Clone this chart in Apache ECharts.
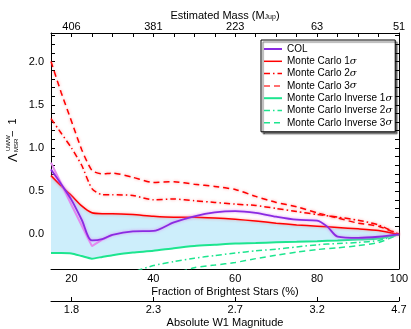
<!DOCTYPE html>
<html>
<head>
<meta charset="utf-8">
<script src="https://cdn.jsdelivr.net/npm/echarts@6/dist/echarts.min.js"></script>
<style>
html, body { margin: 0; padding: 0; background: #fff; }
#chart { width: 411px; height: 329px; }
</style>
</head>
<body>
<div id="chart"></div>
<script>
// fraction of brightest stars (%) shared by the Monte Carlo curves
var fraction = [15, 17.5, 20, 22.5, 25, 27.5, 30, 35, 40, 45, 50, 55, 60, 65, 70, 75, 80, 85, 90, 95, 100]
var mc1 = [0.68, 0.56, 0.45, 0.33, 0.25, 0.24, 0.24, 0.23, 0.21, 0.20, 0.20, 0.19, 0.175, 0.155, 0.13, 0.11, 0.095, 0.08, 0.065, 0.045, 0]
var mc2 = [1.34, 1.17, 1.00, 0.80, 0.53, 0.46, 0.46, 0.45, 0.40, 0.41, 0.39, 0.37, 0.35, 0.335, 0.30, 0.265, 0.23, 0.20, 0.165, 0.11, 0]
var mc3 = [2.00, 1.64, 1.31, 0.98, 0.74, 0.70, 0.71, 0.66, 0.60, 0.61, 0.58, 0.555, 0.52, 0.44, 0.37, 0.32, 0.25, 0.19, 0.13, 0.095, 0]
var inv1 = [-0.215, -0.215, -0.22, -0.25, -0.28, -0.26, -0.24, -0.21, -0.19, -0.16, -0.135, -0.12, -0.105, -0.10, -0.09, -0.085, -0.078, -0.07, -0.06, -0.048, 0]

var inv2Fraction = [30, 35, 40, 45, 50, 55, 60, 65, 70, 75, 80, 85, 90, 95, 100]
var inv2 = [-0.56, -0.44, -0.36, -0.315, -0.275, -0.245, -0.215, -0.19, -0.17, -0.145, -0.12, -0.105, -0.093, -0.07, 0]
var inv3Fraction = [40, 45, 50, 55, 60, 65, 70, 75, 80, 85, 90, 95, 100]
var inv3 = [-0.56, -0.46, -0.385, -0.355, -0.325, -0.28, -0.24, -0.205, -0.175, -0.155, -0.13, -0.095, 0]

var colFraction = [15, 17.5, 20, 22.5, 25, 27.5, 30, 35, 40, 45, 50, 55, 60, 65, 70, 75, 80, 82.5, 85, 90, 95, 100]
var col = [0.75, 0.58, 0.40, 0.17, -0.07, -0.055, -0.005, 0.035, 0.04, 0.14, 0.21, 0.255, 0.27, 0.25, 0.205, 0.17, 0.16, 0.09, -0.025, -0.04, -0.027, 0]
// unsmoothed COL near the bright end
var colRawFraction = [15, 20, 25, 27.5, 30]
var colRaw = [0.83, 0.34, -0.135, -0.06, -0.005]

// tick labels
var fractionTicks = [20, 40, 60, 80, 100]
var massLabels = ['406', '381', '223', '63', '51']
var magLabels = ['1.8', '2.3', '2.7', '3.2', '4.7']

var FONT = 'Liberation Sans'
var RED = '#ff0000'
var GREEN = '#1de58f'
var PURPLE = '#8a2be2'
var DASH = [6, 4]
var DASHDOT = [6, 3, 1.5, 3]

function pairs(xs, ys) {
  return xs.map(function (x, i) { return [x, ys[i]] })
}

var axisLine = { onZero: false, lineStyle: { color: '#000', width: 1 } }
var axisTick = { inside: true, length: 4, lineStyle: { color: '#000' } }
var labelStyle = { color: '#000', fontSize: 11, fontFamily: FONT }

function tickLabel(list) {
  return function (v) {
    var i = fractionTicks.indexOf(Math.round(v))
    return (Math.abs(v - Math.round(v)) < 1e-6 && i >= 0) ? list[i] : ''
  }
}

function lineSeries(name, data, color, type, width, glow, smooth) {
  return {
    name: name,
    type: 'line',
    data: data,
    symbol: 'none',
    smooth: smooth,
    lineStyle: {
      color: color,
      width: width,
      type: type,
      shadowColor: glow,
      shadowBlur: glow ? 3 : 0
    },
    itemStyle: { color: color },
    z: 3
  }
}

function legendItem(name, color, type, width) {
  return {
    name: name,
    itemStyle: { opacity: 0 },
    lineStyle: { color: color, type: type, width: width, shadowBlur: 0 }
  }
}

var chart = echarts.init(document.getElementById('chart'))
var option = {
  animation: false,
  backgroundColor: '#fff',
  grid: { left: 51, right: 12, top: 33, bottom: 60, outerBoundsMode: 'none', containLabel: false },
  xAxis: [
    {
      type: 'value', position: 'bottom', min: 15, max: 100, interval: 5,
      axisLine: axisLine, axisTick: axisTick, splitLine: { show: false },
      axisLabel: Object.assign({ margin: 4, formatter: tickLabel(fractionTicks.map(String)) }, labelStyle),
      name: 'Fraction of Brightest Stars (%)', nameLocation: 'middle', nameGap: 17, nameMoveOverlap: false,
      nameTextStyle: labelStyle
    },
    {
      type: 'value', position: 'top', min: 15, max: 100, interval: 5,
      axisLine: axisLine, axisTick: axisTick, splitLine: { show: false },
      axisLabel: Object.assign({ margin: 1, formatter: tickLabel(massLabels) }, labelStyle),
      name: 'Estimated Mass (M{sub|Jup})', nameLocation: 'middle', nameGap: 12, nameMoveOverlap: false,
      nameTextStyle: Object.assign({
        rich: { sub: { fontSize: 7, fontFamily: FONT, color: '#000', verticalAlign: 'bottom', padding: [4, 0, 0, 0] } }
      }, labelStyle)
    },
    {
      type: 'value', position: 'bottom', offset: 32, min: 15, max: 100,
      axisLine: axisLine, splitLine: { show: false },
      axisTick: Object.assign({ customValues: fractionTicks }, axisTick),
      axisLabel: Object.assign({ margin: 3, customValues: fractionTicks, formatter: tickLabel(magLabels) }, labelStyle),
      name: 'Absolute W1 Magnitude', nameLocation: 'middle', nameGap: 16, nameMoveOverlap: false,
      nameTextStyle: labelStyle
    }
  ],
  yAxis: [
    {
      type: 'value', position: 'left', min: -0.4, max: 2.33, interval: 0.1,
      axisLine: axisLine, axisTick: axisTick, splitLine: { show: false },
      axisLabel: Object.assign({
        margin: 7,
        formatter: function (v) {
          var k = Math.round(v * 10)
          return (k % 5 === 0 && Math.abs(v * 10 - k) < 1e-6) ? (k / 10).toFixed(1) : ''
        }
      }, labelStyle)
    },
    {
      type: 'value', position: 'right', min: -0.4, max: 2.33, interval: 0.1,
      axisLine: axisLine, axisTick: axisTick, splitLine: { show: false },
      axisLabel: { show: false }
    }
  ],
  legend: {
    data: [
      legendItem('COL', PURPLE, 'solid', 2),
      legendItem('Monte Carlo 1σ', RED, 'solid', 1.5),
      legendItem('Monte Carlo 2σ', RED, DASHDOT, 1.5),
      legendItem('Monte Carlo 3σ', '#ff7070', DASH, 2),
      legendItem('Monte Carlo Inverse 1σ', GREEN, 'solid', 2),
      legendItem('Monte Carlo Inverse 2σ', GREEN, DASHDOT, 1.5),
      legendItem('Monte Carlo Inverse 3σ', GREEN, DASH, 1.5)
    ],
    orient: 'vertical',
    left: 261,
    top: 40,
    padding: [4, 3, 4, 2],
    itemWidth: 18,
    itemHeight: 12,
    itemGap: 2.3,
    backgroundColor: '#fff',
    borderColor: '#000',
    borderWidth: 1,
    shadowColor: 'rgba(0,0,0,0.55)',
    shadowBlur: 1,
    shadowOffsetX: 2,
    shadowOffsetY: 2,
    formatter: function (name) { return name.replace('σ', '{i|σ}') },
    textStyle: {
      color: '#000', fontSize: 10, fontFamily: FONT,
      rich: { i: { fontStyle: 'italic', fontFamily: 'DejaVu Serif', fontSize: 10, color: '#000' } }
    }
  },
  graphic: [
    {
      type: 'group', x: 13, y: 141, rotation: Math.PI / 2,
      children: [
        { type: 'text', x: -21, y: 0, style: { text: 'Λ', font: '13px "Liberation Sans"', fill: '#000', verticalAlign: 'middle' } },
        { type: 'text', x: -10, y: -5, style: { text: 'UWW', font: '6px "Liberation Sans"', fill: '#000', verticalAlign: 'middle' } },
        { type: 'text', x: -11, y: 3, style: { text: 'MSR', font: '6px "Liberation Sans"', fill: '#000', verticalAlign: 'middle' } },
        { type: 'text', x: 4, y: 0, style: { text: '−  1', font: '11px "Liberation Sans"', fill: '#000', verticalAlign: 'middle' } }
      ]
    }
  ],
  series: [
    // band between Monte Carlo 1σ and its inverse: blue down to the floor, then white below the inverse
    {
      name: 'band', type: 'line', data: pairs(fraction, mc1),
      symbol: 'none', smooth: 0.2, lineStyle: { opacity: 0 },
      areaStyle: { color: '#cdeefb', opacity: 1, origin: 'start' }, silent: true, z: 1
    },
    {
      name: 'bandMask', type: 'line', data: pairs(fraction, inv1),
      symbol: 'none', smooth: 0.2, lineStyle: { opacity: 0 },
      areaStyle: { color: '#fff', opacity: 1, origin: 'start' }, silent: true, z: 1
    },
    lineSeries('Monte Carlo Inverse 3σ', pairs(inv3Fraction, inv3), GREEN, DASH, 1.5, null, 0.2),
    lineSeries('Monte Carlo Inverse 2σ', pairs(inv2Fraction, inv2), GREEN, DASHDOT, 1.5, null, 0.2),
    lineSeries('Monte Carlo Inverse 1σ', pairs(fraction, inv1), GREEN, 'solid', 2, null, 0.2),
    lineSeries('Monte Carlo 3σ', pairs(fraction, mc3), RED, DASH, 1.5, 'rgba(255,90,90,0.6)', 0.2),
    lineSeries('Monte Carlo 2σ', pairs(fraction, mc2), RED, DASHDOT, 1.5, 'rgba(255,90,90,0.6)', 0.2),
    lineSeries('Monte Carlo 1σ', pairs(fraction, mc1), RED, 'solid', 1.5, 'rgba(255,90,90,0.6)', 0.2),
    lineSeries('COL raw', pairs(colRawFraction, colRaw), '#e48af0', 'solid', 2, null, false),
    lineSeries('COL', pairs(colFraction, col), PURPLE, 'solid', 1.8, 'rgba(220,120,240,0.8)', 0.3)
  ]
}
option && chart.setOption(option)
</script>
</body>
</html>
